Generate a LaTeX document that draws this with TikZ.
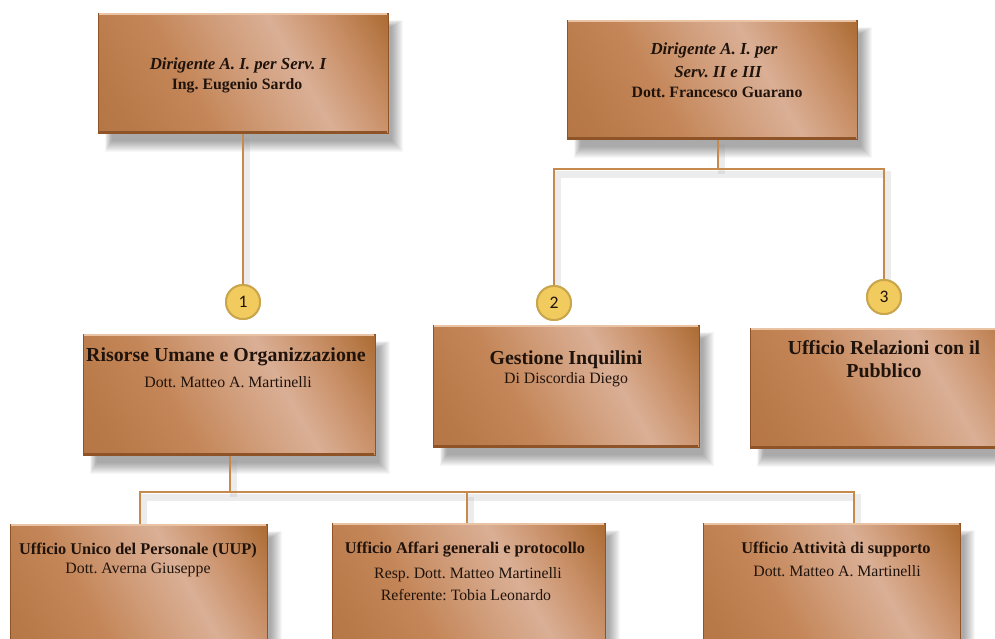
\documentclass[tikz,border=0pt]{standalone}
\usepackage{fontspec}
\setmainfont{Liberation Serif}
\newfontfamily\numfont{Carlito}
\frenchspacing
\definecolor{cuZ}{HTML}{B06E3E}
\definecolor{cuA}{HTML}{B87948}
\definecolor{cuB}{HTML}{C48658}
\definecolor{cuM}{HTML}{D2A07F}
\definecolor{cuC}{HTML}{DAAF95}
\definecolor{cuR}{HTML}{C99068}
\definecolor{cuD}{HTML}{AC6C34}
\definecolor{cuY}{HTML}{A0622B}
\definecolor{cuEdge}{HTML}{8E5428}
\definecolor{cuHi}{HTML}{E9C3A4}
\definecolor{linkc}{HTML}{C68A4C}
\definecolor{goldf}{HTML}{F2CB5E}
\definecolor{goldd}{HTML}{C9A64C}
\definecolor{inkc}{HTML}{1F130C}
\pgfdeclarehorizontalshading{copper}{100bp}{color(0bp)=(cuZ); color(22bp)=(cuA); color(38bp)=(cuB); color(52bp)=(cuM); color(61bp)=(cuC); color(72bp)=(cuR); color(84bp)=(cuD); color(100bp)=(cuY)}
\pgfdeclarelayer{bg}
\pgfsetlayers{bg,main}
\newcommand{\fsz}[1]{\fontsize{#1}{#1}\selectfont}
\begin{document}
\begin{tikzpicture}[x=0.02cm,y=-0.02cm,
  box/.style={rectangle, shading=copper, shading angle=30, draw=cuEdge, line width=0.5pt, inner sep=0pt},
  bx/.style 2 args={box, minimum width=#1*0.02cm, minimum height=#2*0.02cm},
  badge/.style={circle, fill=goldf, draw=goldd, line width=1.1pt, minimum size=34*0.02cm, inner sep=0pt, font=\numfont\fsz{10}, text=inkc},
  link/.style={draw=linkc, line width=1.7pt,
    preaction={draw=black!40, opacity=0.18, line width=4pt, transform canvas={xshift=2pt,yshift=-3pt}}},
  ttl/.style={inner sep=0pt, text=inkc, font=\fsz{11.3}\bfseries},
  sub/.style={inner sep=0pt, text=inkc, font=\fsz{9}},
  btl/.style={inner sep=0pt, text=inkc, font=\fsz{9.3}\bfseries},
  itl/.style={inner sep=0pt, text=inkc, font=\fsz{9.6}\bfseries\itshape},
  bsub/.style={inner sep=0pt, text=inkc, font=\fsz{9}\bfseries},
  bevtop/.style={draw=cuHi, line width=1.2pt},
  bevbot/.style={draw=cuEdge, line width=1.2pt},
  shadowlayer/.style={fill=black, opacity=0.03}
]
\clip (0,0) rectangle (995,639);
\begin{pgfonlayer}{bg}
\fill[white] (0,0) rectangle (995,639);
\end{pgfonlayer}

% coordinates of junctions
\coordinate (bj) at (718,169);
\coordinate (bl) at (554,169);
\coordinate (br) at (884,169);
\coordinate (cj) at (230,492);
\coordinate (hj) at (854,492);

% badges
\node[badge] (c1) at (243,302) {1};
\node[badge] (c2) at (554,303) {2};
\node[badge] (c3) at (884,297) {3};

% connectors (drawn before boxes)
\draw[link] (bj |- 0,139) -- (bj);
\draw[link] (c2.north) -- (bl) -- (br) -- (c3.north);
\draw[link] (243,133) -- (c1.north);
\draw[link] (cj |- 0,455) -- (cj);
\draw[link] (140,524) -- (140,492) -- (hj) -- (854,523);
\draw[link] (467,492) -- (467,523);

% boxes
\node[bx={290}{120}] (A) at (243,73) {};
\node[bx={290}{119}] (B) at (712,79.5) {};
\node[bx={292}{121}] (C) at (229,394.5) {};
\node[bx={266}{122}] (D) at (566,386) {};
\node[bx={280}{120}] (E) at (890,388) {};
\node[bx={257}{136}] (F) at (138.5,592) {};
\node[bx={273}{137}] (G) at (468.5,591.5) {};
\node[bx={257}{137}] (H) at (831.5,591.5) {};

% soft shadows
\begin{pgfonlayer}{bg}
\foreach \n in {A,B,C,D,E,F,G,H}{
  \foreach \k in {0,...,11}{
    \fill[shadowlayer] ([shift={(14-0.6*\k,14-0.6*\k)}]\n.north west) rectangle ([shift={(4+\k,8+\k)}]\n.south east);
  }
}
\end{pgfonlayer}

\foreach \n in {A,B,C,D,E,F,G,H}{
  \draw[bevtop] ([xshift=0.6pt,yshift=-1pt]\n.north west) -- ([xshift=-0.6pt,yshift=-1pt]\n.north east);
  \draw[bevbot] ([xshift=0.6pt,yshift=1pt]\n.south west) -- ([xshift=-0.6pt,yshift=1pt]\n.south east);
}

% redraw badges on top
\node[badge] at (c1) {1};
\node[badge] at (c2) {2};
\node[badge] at (c3) {3};

% texts
\node[itl] (tA1) at (238,65) {Dirigente A. I. per Serv. I};
\node[bsub] (tA2) at (237,86) {Ing. Eugenio Sardo};

\node[itl] (tB1) at (714,50) {Dirigente A. I. per};
\node[itl] (tB2) at (718,72) {Serv. II e III};
\node[bsub] (tB3) at (717,92) {Dott. Francesco Guarano};

\node[ttl] (tC1) at (226,357) {Risorse Umane e Organizzazione};
\node[sub] (tC2) at (228,382) {Dott. Matteo A. Martinelli};

\node[ttl] (tD1) at (566,360) {Gestione Inquilini};
\node[sub] (tD2) at (566,380) {Di Discordia Diego};

\node[ttl] (tE1) at (884,348) {Ufficio Relazioni con il};
\node[ttl] (tE2) at (884,371) {Pubblico};

\node[btl] (tF1) at (138,550) {Ufficio Unico del Personale (UUP)};
\node[sub] (tF2) at (138,570) {Dott. Averna Giuseppe};

\node[btl] (tG1) at (465,550) {Ufficio Affari generali e protocollo};
\node[sub] (tG2) at (468,575) {Resp. Dott. Matteo Martinelli};
\node[sub] (tG3) at (466,595) {Referente: Tobia Leonardo};

\node[btl] (tH1) at (836,549) {Ufficio Attività di supporto};
\node[sub] (tH2) at (837,571) {Dott. Matteo A. Martinelli};
\end{tikzpicture}
\end{document}
